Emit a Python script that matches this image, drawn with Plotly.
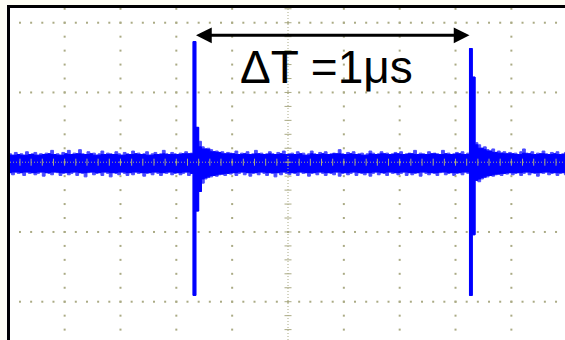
import plotly.graph_objects as go

# ---- data (time in microseconds, 0.2 us/div; amplitude in hundredths of a division) ----
t_start_us = -1.00
dt_us = 0.01

upper_cdiv = (
    [12, 10, 14, 11, 12, 10, 15, 11, 12, 14, 10, 12, 11, 13, 12, 17, 11, 12, 10, 14]
    + [12, 17, 11, 13, 12, 18, 12, 11, 15, 12, 13, 10, 12, 16, 11, 13, 12, 11, 15, 12]
    + [10, 14, 12, 11, 16, 12, 13, 11, 12, 15, 10, 12, 14, 11, 12, 17, 12, 11, 14, 12]
    + [11, 13, 12, 15, 12, 13]
    + [173, 50, 30, 22, 19, 20, 18, 15, 16, 14, 15, 12, 14, 13]
    + [12, 16, 11, 13, 12, 15, 11, 12, 17, 12, 13, 11, 12, 15, 12, 11, 14, 12, 16, 11]
    + [12, 13, 11, 15, 12, 13, 10, 12, 16, 12, 11, 14, 12, 15, 11, 12, 13, 12, 18, 12]
    + [11, 14, 12, 15, 11, 12, 13, 10, 12, 16, 13, 11, 12, 15, 12, 13, 11, 12, 14, 12]
    + [15, 11, 12, 13, 12, 17, 11, 13, 12, 11, 15, 12, 13, 12, 11, 17, 12, 13, 11, 12]
    + [14, 12, 15, 11, 13]
    + [163, 122, 28, 25, 20, 22, 18, 16, 19, 14, 16, 13, 15, 12, 14]
    + [12, 13, 11, 15, 19, 13, 12, 15, 11, 13, 12, 16, 12, 11, 14, 12, 15, 11, 12, 14, 12]
)

lower_cdiv = (
    [-15, -18, -14, -16, -15, -19, -14, -16, -15, -18, -16, -14, -20, -15, -16, -18, -14, -15, -19, -16]
    + [-15, -18, -16, -14, -19, -15, -16, -21, -15, -14, -18, -16, -15, -19, -14, -16, -21, -15, -16, -18]
    + [-14, -16, -19, -15, -18, -14, -16, -15, -20, -16, -15, -18, -14, -16, -19, -15, -16, -14, -18, -16]
    + [-15, -18, -16, -14, -19, -16]
    + [-191, -70, -42, -30, -24, -22, -21, -19, -20, -18, -17, -19, -16, -17]
    + [-15, -19, -16, -14, -18, -15, -20, -16, -15, -18, -14, -16, -19, -15, -16, -21, -15, -18, -14, -16]
    + [-18, -15, -16, -19, -14, -16, -15, -20, -16, -15, -18, -14, -16, -19, -15, -16, -18, -14, -20, -16]
    + [-15, -18, -16, -14, -19, -15, -16, -18, -15, -20, -16, -14, -18, -15, -16, -19, -14, -16, -15, -18]
    + [-16, -14, -19, -15, -18, -16, -15, -20, -14, -16, -18, -15, -16, -19, -15, -14, -18, -16, -15, -19]
    + [-16, -15, -18, -14, -16]
    + [-191, -104, -26, -28, -24, -22, -21, -19, -20, -18, -17, -19, -16, -17, -15]
    + [-18, -16, -15, -19, -16, -14, -18, -15, -16, -20, -15, -16, -14, -18, -16, -15, -19, -16, -15, -18, -16]
)

arrow_times_us = [-0.335, 0.650]   # pulse-to-pulse marker
arrow_level_div = 1.82
label_text = "ΔT =1μs"
label_pos = (0.138, 1.365)

assert len(upper_cdiv) == len(lower_cdiv)

# ---- build ----
t_us = [round(t_start_us + dt_us * i, 4) for i in range(len(upper_cdiv))]
upper = [v / 100 for v in upper_cdiv]
lower = [v / 100 for v in lower_cdiv]
n = len(upper)

# dense core of the trace (less-frequent excursions drawn as lighter fringe)
core_upper = [upper[i] if upper[i] > 0.3 else min(upper[max(0, i - 1):i + 2]) for i in range(n)]
core_lower = [lower[i] if lower[i] < -0.3 else max(lower[max(0, i - 1):i + 2]) for i in range(n)]

x_range = [-0.9957, 0.9921]
y_range = [-2.549, 2.211]
us_per_div = 0.2
grat = "#aaaa84"
blue = "#0000ff"
fringe = "#4a4aff"

fig = go.Figure()
for up, lo, col in [(upper, lower, fringe), (core_upper, core_lower, blue)]:
    fig.add_trace(go.Scatter(x=t_us, y=up, mode="lines", line=dict(color=col, width=1, shape="hv"),
                             hoverinfo="skip", showlegend=False))
    fig.add_trace(go.Scatter(x=t_us, y=lo, mode="lines", line=dict(color=col, width=1, shape="hv"),
                             fill="tonexty", fillcolor=col, hoverinfo="skip", showlegend=False))

# graticule (drawn on top of the trace, like a scope)
x_major = [k * us_per_div for k in range(-4, 5)]
y_major = [k for k in range(-2, 3)]
x_minor = [k * us_per_div / 5 for k in range(-24, 25)]
y_minor = [k / 5 for k in range(-12, 12)]

dx, dy = [], []
for xm in x_major:
    if abs(xm) < 1e-9:
        continue
    for ym in y_minor:
        dx.append(xm); dy.append(ym)
for ym in y_major:
    if ym == 0:
        continue
    for xm in x_minor:
        dx.append(xm); dy.append(ym)
fig.add_trace(go.Scatter(x=dx, y=dy, mode="markers",
                         marker=dict(symbol="square", size=2, color=grat, line=dict(width=0)),
                         hoverinfo="skip", showlegend=False))

# center cross lines
fig.add_trace(go.Scatter(x=[0, 0], y=y_range, mode="lines",
                         line=dict(color=grat, width=1, dash="1px,2px"), hoverinfo="skip", showlegend=False))
fig.add_trace(go.Scatter(x=x_range, y=[0, 0], mode="lines",
                         line=dict(color=grat, width=1, dash="1px,2px"), hoverinfo="skip", showlegend=False))
fig.add_trace(go.Scatter(x=[0] * len(y_minor), y=y_minor, mode="markers",
                         marker=dict(symbol="line-ew", size=5, line=dict(color=grat, width=1)),
                         hoverinfo="skip", showlegend=False))
fig.add_trace(go.Scatter(x=x_minor, y=[0] * len(x_minor), mode="markers",
                         marker=dict(symbol="line-ns", size=5, line=dict(color=grat, width=1)),
                         hoverinfo="skip", showlegend=False))

# delta-T arrow and label
fig.add_annotation(x=arrow_times_us[1], y=arrow_level_div, ax=arrow_times_us[0], ay=arrow_level_div,
                   xref="x", yref="y", axref="x", ayref="y", text="", showarrow=True,
                   arrowhead=2, startarrowhead=2, arrowside="end+start", arrowsize=1.05, startarrowsize=1.05,
                   arrowwidth=3, arrowcolor="black", standoff=0, startstandoff=0)
fig.add_annotation(x=label_pos[0], y=label_pos[1], xref="x", yref="y", text=label_text, showarrow=False,
                   font=dict(family="Liberation Sans, Arial, sans-serif", size=46, color="black"))

fig.update_xaxes(range=x_range, showgrid=False, zeroline=False, showticklabels=False, ticks="",
                 side="top", showline=True, linewidth=3, linecolor="black", fixedrange=True)
fig.update_yaxes(range=y_range, showgrid=False, zeroline=False, showticklabels=False, ticks="",
                 showline=True, linewidth=3, linecolor="black", fixedrange=True)
fig.update_layout(width=565, height=340, margin=dict(l=10, r=0, t=8, b=0),
                  paper_bgcolor="#fefef4", plot_bgcolor="white", showlegend=False)

fig.write_html("out.html", config={"displayModeBar": False},
               post_script="document.body.style.margin='0';document.body.style.overflow='hidden';")
